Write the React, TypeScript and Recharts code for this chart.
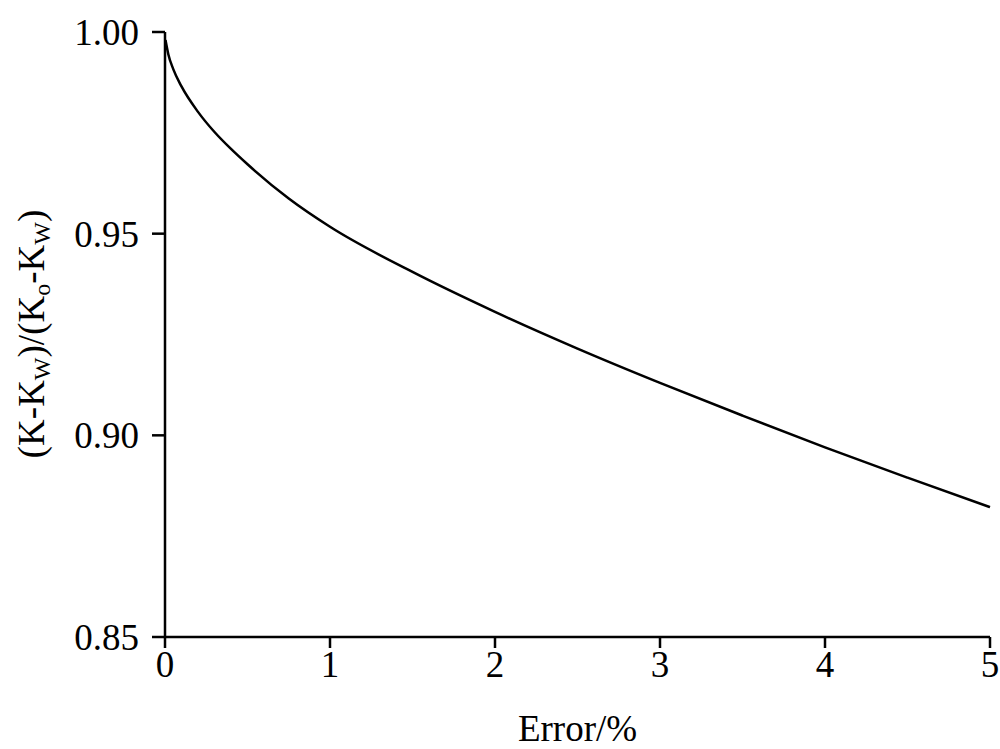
import { LineChart, Line, XAxis, YAxis } from 'recharts';

const errorPct = [0.003, 0.02, 0.05, 0.1, 0.2, 0.3, 0.4, 0.5, 0.75, 1, 1.5, 2, 2.5, 3, 3.5, 4, 4.5, 5];
const ratio = [0.998, 0.9945, 0.9908, 0.9865, 0.9802, 0.9752, 0.971, 0.9672, 0.9587, 0.9517, 0.9405, 0.9306, 0.9215, 0.913, 0.9049, 0.897, 0.8895, 0.8822];
const xTicks = [0, 1, 2, 3, 4, 5];
const yTicks = [0.85, 0.9, 0.95, 1.0];

const data = errorPct.map((x, i) => ({ x, y: ratio[i] }));

const FONT = '"Liberation Serif", "Times New Roman", serif';

const YLabel = () => (
    <text
        x={0}
        y={0}
        transform="translate(44, 334) rotate(-90)"
        textAnchor="middle"
        fontFamily={FONT}
        fontSize={37}
        fill="#000"
    >
        (K-K<tspan fontSize={24} dy={6}>W</tspan>
        <tspan dy={-6}>)/(K</tspan>
        <tspan fontSize={24} dy={6}>o</tspan>
        <tspan dy={-6}>-K</tspan>
        <tspan fontSize={24} dy={6}>W</tspan>
        <tspan dy={-6}>)</tspan>
    </text>
);

export default function App() {
    return (
        <div style={{ position: 'absolute', left: 0, top: 0, width: 1000, height: 749, background: '#fff' }}>
            <LineChart width={1000} height={749} data={data} margin={{ top: 32, right: 10, left: 0, bottom: 0 }}>
                <XAxis
                    dataKey="x"
                    type="number"
                    domain={[0, 5]}
                    ticks={xTicks}
                    height={112}
                    stroke="#000"
                    strokeWidth={2.5}
                    tickSize={11}
                    tickMargin={3}
                    tick={{ fill: '#000', fontSize: 37, fontFamily: FONT }}
                    label={{ value: 'Error/%', position: 'insideBottom', offset: 8, fill: '#000', fontSize: 37, fontFamily: FONT }}
                />
                <YAxis
                    type="number"
                    domain={[0.85, 1.0]}
                    ticks={yTicks}
                    width={165}
                    stroke="#000"
                    strokeWidth={2.5}
                    tickSize={13}
                    tickMargin={13}
                    tickFormatter={(v: number) => v.toFixed(2)}
                    tick={{ fill: '#000', fontSize: 37, fontFamily: FONT }}
                    label={<YLabel />}
                />
                <Line
                    type="monotone"
                    dataKey="y"
                    stroke="#000"
                    strokeWidth={2.5}
                    dot={false}
                    isAnimationActive={false}
                />
            </LineChart>
        </div>
    );
}
